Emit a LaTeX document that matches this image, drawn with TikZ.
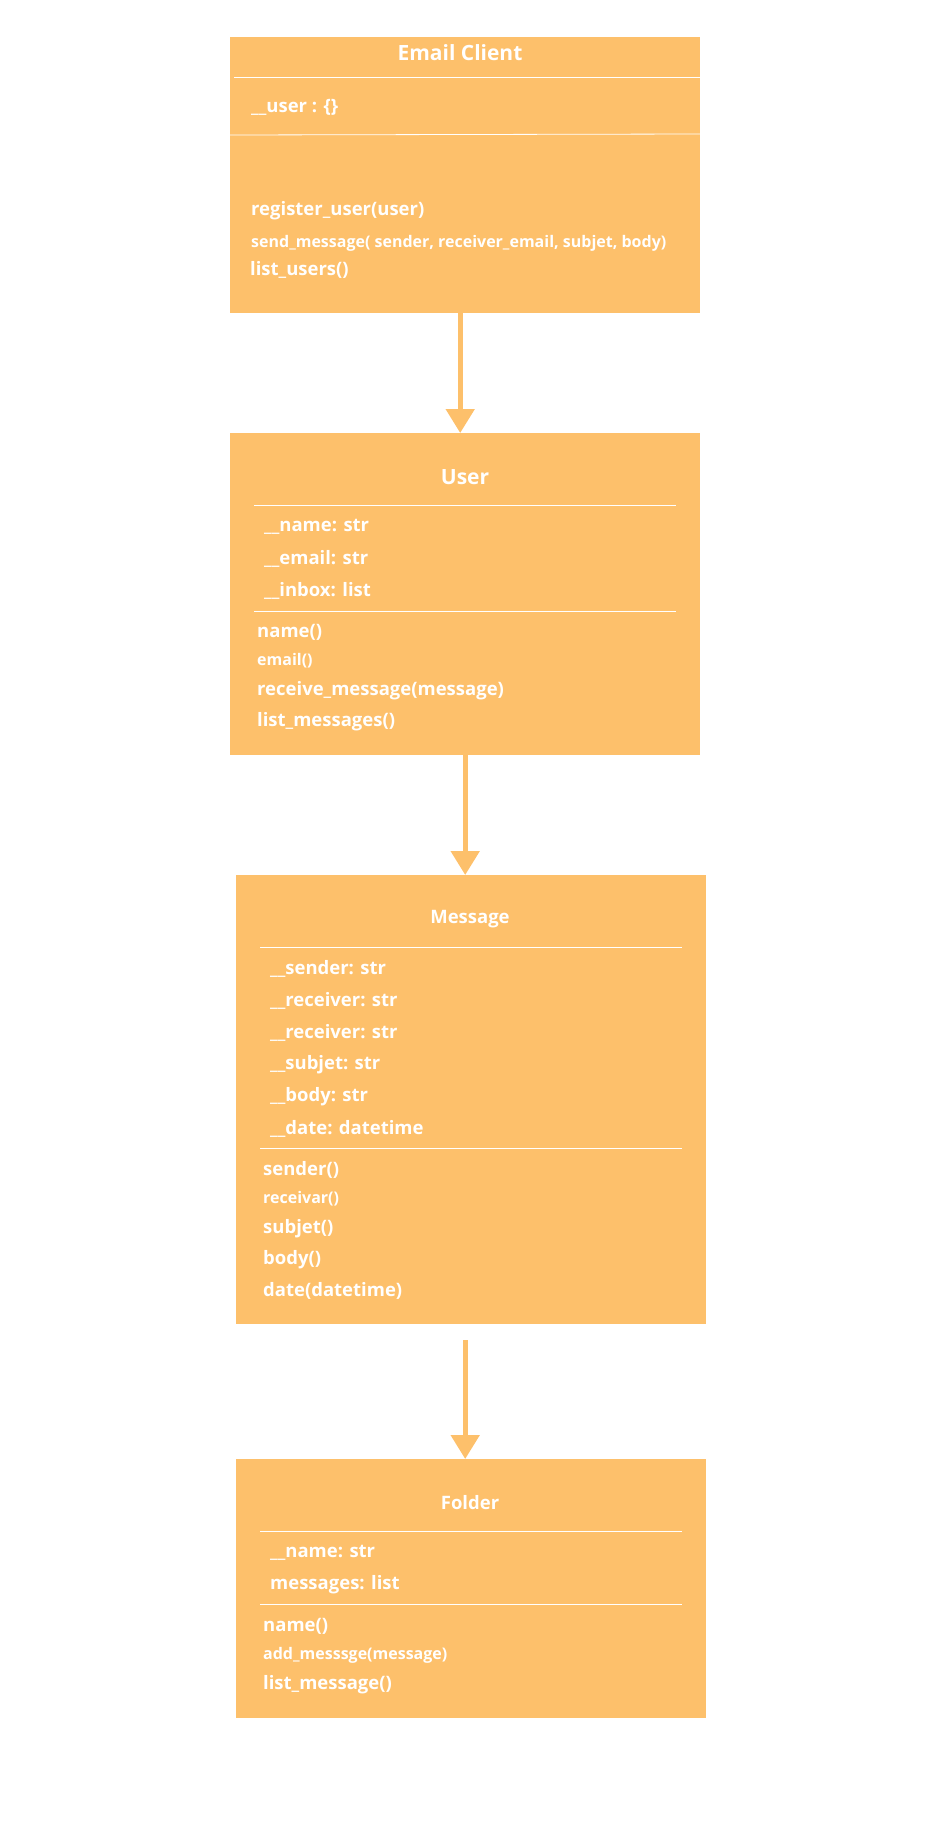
\documentclass[tikz,border=0pt]{standalone}
\usepackage{fontspec}
\setmainfont{Open Sans}
\usetikzlibrary{arrows.meta}
\definecolor{boxcolor}{HTML}{FDC06B}

\begin{document}
\begin{tikzpicture}[x=1pt, y=-1pt,
    classbox/.style={fill=boxcolor, anchor=north west, minimum width=470pt, inner sep=0pt},
    bigtitle/.style={text=white, inner sep=0pt, font=\fontsize{21}{25}\selectfont\bfseries},
    smalltitle/.style={text=white, inner sep=0pt, font=\fontsize{18.5}{22}\selectfont\bfseries},
    item/.style={text=white, anchor=west, inner sep=0pt, font=\fontsize{18.5}{22}\selectfont\bfseries},
    smallitem/.style={item, font=\fontsize{16}{19}\selectfont\bfseries},
    sep/.style={white, line width=0.8pt},
    flow/.style={boxcolor, line width=5pt, -{Triangle[width=28pt, length=24pt]}}
]
\useasboundingbox (0,0) rectangle (936,1831);

% Email Client
\node[classbox, minimum height=276pt] (ec) at (230,37) {};
\node[bigtitle] (ectitle) at (460,53) {Email Client};
\draw[sep] (234,77) -- (700,77);
\node[item] (ecuser) at (251,107) {\_\_user : \{\}};
\draw[sep] (230,135) -- (700,134);
\node[item] (ecreg) at (251,211) {register\_user(user)};
\node[smallitem] (ecsend) at (251,243) {send\_message( sender, receiver\_email, subjet, body)};
\node[item] (eclist) at (250,270) {list\_users()};

% User
\node[classbox, minimum height=322pt] (user) at (230,433) {};
\node[bigtitle] (usertitle) at (465,477) {User};
\draw[sep] (254,505) -- (676,505);
\foreach \y/\t [count=\i] in {527/\_\_name: str, 559/\_\_email: str, 591/\_\_inbox: list}
    \node[item] (userattr\i) at (264,\y) {\t};
\draw[sep] (254,611) -- (676,611);
\node[item] (username) at (257,632) {name()};
\node[smallitem] (useremail) at (257,661) {email()};
\node[item] (userrecv) at (257,691) {receive\_message(message)};
\node[item] (userlist) at (257,722) {list\_messages()};

% Message
\node[classbox, minimum height=449pt] (msg) at (236,875) {};
\node[smalltitle] (msgtitle) at (470,919) {Message};
\draw[sep] (260,947) -- (682,947);
\foreach \y/\t [count=\i] in {969/\_\_sender: str, 1001/\_\_receiver: str, 1033/\_\_receiver: str,
        1065/\_\_subjet: str, 1097/\_\_body: str, 1129/\_\_date: datetime}
    \node[item] (msgattr\i) at (270,\y) {\t};
\draw[sep] (260,1148) -- (682,1148);
\node[item] (msgsender) at (263,1170) {sender()};
\node[smallitem] (msgrecv) at (263,1199) {receivar()};
\node[item] (msgsubj) at (263,1229) {subjet()};
\node[item] (msgbody) at (263,1260) {body()};
\node[item] (msgdate) at (263,1291) {date(datetime)};

% Folder
\node[classbox, minimum height=259pt] (folder) at (236,1459) {};
\node[smalltitle] (foldertitle) at (470,1503) {Folder};
\draw[sep] (260,1531) -- (682,1531);
\node[item] (foldername) at (270,1553) {\_\_name: str};
\node[item] (foldermsgs) at (270,1585) {messages: list};
\draw[sep] (260,1604) -- (682,1604);
\node[item] (folderget) at (263,1626) {name()};
\node[smallitem] (folderadd) at (263,1655) {add\_messsge(message)};
\node[item] (folderlist) at (263,1685) {list\_message()};

% arrows
\draw[flow] ([xshift=-5pt]ec.south) -- ([xshift=-5pt]user.north);
\draw[flow] (user.south) -- (user.south |- msg.north);
\draw[flow] ([yshift=-16pt]user.south |- msg.south) -- (user.south |- folder.north);
\end{tikzpicture}
\end{document}
